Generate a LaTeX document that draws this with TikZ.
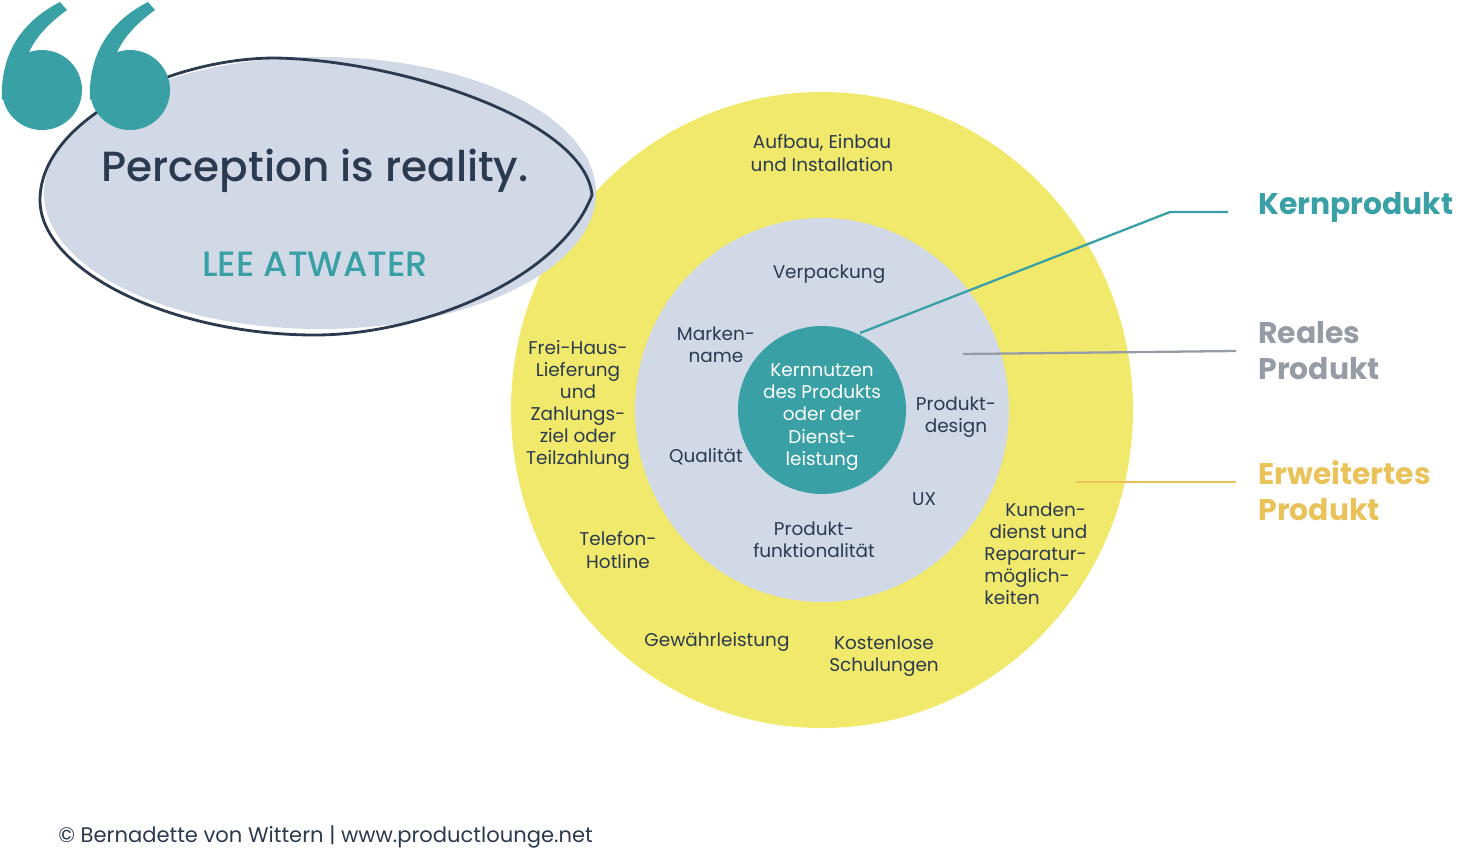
\documentclass[tikz,border=0pt]{standalone}
\usepackage{fontspec}
\setmainfont{Poppins}
\newfontfamily\pmed{Poppins Medium}
\begin{document}
\definecolor{teal}{HTML}{39A0A6}
\definecolor{greyf}{HTML}{D0D9E5}
\definecolor{yel}{HTML}{F1E96B}
\definecolor{dark}{HTML}{2B3A4E}
\definecolor{greyl}{HTML}{959CA6}
\definecolor{ora}{HTML}{E9C25A}
\begin{tikzpicture}[x=0.02cm,y=-0.02cm,
  lbl/.style={font=\fontsize{10.5}{12.6}\selectfont,text=dark,align=center,inner sep=0},
  side/.style={font=\fontsize{17}{20.5}\selectfont\bfseries,align=left,anchor=west,inner sep=0}]
\useasboundingbox (0,0) rectangle (1481,866);
% circles
\fill[yel] (822,410) ellipse (311 and 318);
\fill[greyf] (822,410) ellipse (187 and 192);
\node[circle,fill=teal,minimum size=168*0.02cm,inner sep=0] (core) at (822,410) {};
% quote blob
\fill[greyf] (320,193) ellipse (276 and 136);
\draw[dark,line width=1.6pt] (40,200) .. controls (40,120) and (170,58) .. (275,58)
  .. controls (400,60) and (585,120) .. (592,195)
  .. controls (560,280) and (420,335) .. (315,335)
  .. controls (170,335) and (40,270) .. (40,200);
% quote marks
\foreach \dx in {0,88}{
\begin{scope}[xshift=\dx*0.02cm]
\fill[teal] (42,90) circle (40);
\fill[teal] (2,100) .. controls (0,50) and (25,20) .. (60,2) -- (67,10)
  .. controls (42,28) and (24,50) .. (24,75) -- cycle;
\end{scope}}
\node[font=\pmed\fontsize{24}{28}\selectfont,text=dark,inner sep=0] (q) at (315,171) {Perception is reality.};
\node[font=\pmed\fontsize{20}{24}\selectfont,text=teal,inner sep=0] (a) at (315,264) {LEE ATWATER};
% texts
\begin{scope}[yshift=-2*0.02cm]
\node[lbl] (t1) at (822,151) {Aufbau, Einbau\\und Installation};
\node[lbl] (t2) at (829,272) {Verpackung};
\node[lbl] (t3) at (716,343) {Marken-\\name};
\node[lbl,text=white] (t4) at (822,415) {Kernnutzen\\des Produkts\\oder der\\Dienst-\\leistung};
\node[lbl] (t5) at (956,415) {Produkt-\\design};
\node[lbl] (t6) at (706,455) {Qualität};
\node[lbl] (t7) at (924,497) {UX};
\node[lbl] (t8) at (814,538) {Produkt-\\funktionalität};
\node[lbl] (t9) at (578,403) {Frei-Haus-\\Lieferung\\und\\Zahlungs-\\ziel oder\\Teilzahlung};
\node[lbl] (t10) at (618,548) {Telefon-\\Hotline};
\node[lbl,align=left,anchor=north west] (t11) at (984,500) {\hspace*{12pt}Kunden-\\\hspace*{3pt}dienst und\\Reparatur-\\möglich-\\keiten};
\node[lbl] (t12) at (717,640) {Gewährleistung};
\node[lbl] (t13) at (884,654) {Kostenlose\\Schulungen};
\end{scope}
% side labels
\node[side,text=teal] (k) at (1258,207) {Kernprodukt};
\node[side,text=greyl] (r) at (1258,351) {Reales\\Produkt};
\node[side,text=ora] (e) at (1258,491) {Erweitertes\\Produkt};
\coordinate (k0) at (860,333); \coordinate (k1) at (1170,212); \coordinate (k2) at (1228,212);
\coordinate (r0) at (963,354); \coordinate (r1) at (1236,351);
\coordinate (e0) at (1076,482); \coordinate (e1) at (1236,482);
\draw[teal,line width=1.3pt] (k0) -- (k1) -- (k2);
\draw[greyl,line width=1.3pt] (r0) -- (r1);
\draw[ora,line width=1.3pt] (e0) -- (e1);
\node[anchor=west,inner sep=0,text=dark,font=\fontsize{12}{14}\selectfont] (f) at (58,837) {© Bernadette von Wittern | www.productlounge.net};
\end{tikzpicture}
\end{document}
